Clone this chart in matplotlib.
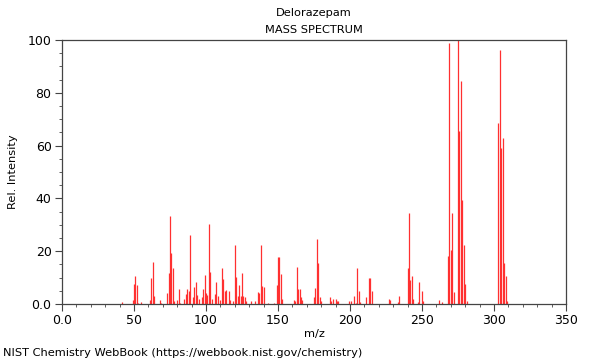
import matplotlib
matplotlib.use("Agg")
import matplotlib.pyplot as plt
from matplotlib.ticker import MultipleLocator, FuncFormatter

# ========================
# DATA
# ========================
mz = [42, 49, 50, 51, 52, 53, 55, 61, 62, 63, 64, 68, 69,
      73, 74, 75, 76, 77, 78, 80, 81, 82, 85, 86, 87, 88, 89,
      91, 92, 93, 94, 95, 97, 98, 99, 100, 101, 102, 103, 104,
      106, 107, 108, 110, 111, 112, 113, 114, 116, 117, 119,
      120, 121, 122, 123, 124, 125, 126, 127, 128, 131, 134,
      136, 137, 138, 139, 140, 143, 147, 149, 150, 151, 152, 153,
      161, 162, 163, 164, 165, 166, 167, 175, 176, 177, 178, 179, 180,
      186, 187, 188, 190, 191, 192, 199, 201, 203, 204, 205, 206, 207,
      211, 213, 214, 215, 227, 228, 233, 234,
      240, 241, 242, 243, 244, 247, 248, 250, 251, 262, 264,
      268, 269, 270, 271, 272, 275, 276, 277, 278, 279, 280, 281,
      303, 304, 305, 306, 307, 308, 309]
intensity = [0.8, 1.5, 7.5, 10.6, 7.2, 0.5, 0.8, 1.5, 9.7, 15.9, 3.0, 1.5, 0.5,
             4.3, 11.9, 33.3, 19.2, 13.8, 1.0, 1.5, 5.6, 0.5, 1.8, 3.7, 5.8, 5.1, 26.1,
             2.5, 6.6, 8.2, 3.4, 1.8, 2.5, 5.7, 11.0, 4.0, 3.4, 30.2, 12.3, 2.0,
             3.7, 8.3, 3.0, 1.5, 13.5, 9.3, 4.9, 5.3, 4.8, 1.5, 1.0,
             22.3, 10.4, 3.0, 7.2, 3.0, 11.6, 3.0, 2.5, 1.0, 1.0, 1.0,
             4.7, 4.3, 22.3, 6.8, 6.3, 0.5, 0.5, 7.1, 17.9, 17.9, 11.4, 1.8,
             1.5, 1.0, 14.1, 5.6, 5.8, 2.5, 1.5, 2.8, 5.9, 24.6, 15.4, 2.5, 1.0,
             2.5, 1.0, 2.0, 2.0, 1.2, 1.2, 1.2, 1.0, 3.0, 0.5, 13.5, 5.0, 0.8,
             2.5, 10.0, 10.0, 4.9, 2.0, 1.5, 0.8, 3.0,
             13.6, 34.3, 9.1, 10.6, 2.0, 0.6, 8.2, 4.8, 1.0, 1.5, 0.6,
             18.2, 98.7, 20.4, 34.6, 4.4, 100.0, 65.5, 84.5, 39.4, 22.3, 7.6, 1.0,
             68.4, 96.2, 59.0, 62.8, 15.4, 10.6, 1.0]

compound = "Delorazepam"
source = "NIST Chemistry WebBook (https://webbook.nist.gov/chemistry)"

# ========================
# PLOT
# ========================
plt.rcParams["font.family"] = ["DejaVu Sans"]
plt.rcParams["font.size"] = 8

fig = plt.figure(figsize=(6, 3.6), dpi=100)
ax = fig.add_axes([62 / 600, 1 - 304 / 360, 504 / 600, 264 / 360])

ax.vlines(mz, 0, intensity, colors="#ff3030", linewidth=0.9)

ax.set_xlim(0, 350)
ax.set_ylim(0, 100)

ax.xaxis.set_major_locator(MultipleLocator(50))
ax.xaxis.set_minor_locator(MultipleLocator(10))
ax.yaxis.set_major_locator(MultipleLocator(20))
ax.yaxis.set_minor_locator(MultipleLocator(5))
fmt = FuncFormatter(lambda v, p: "0.0" if v == 0 else f"{v:.0f}")
ax.xaxis.set_major_formatter(fmt)
ax.yaxis.set_major_formatter(fmt)

ax.tick_params(which="major", length=5, width=0.8, color="#444444",
               labelsize=9, pad=2.5)
ax.tick_params(which="minor", length=2.5, width=0.6, color="#444444")
for s in ax.spines.values():
    s.set_color("#444444")
    s.set_linewidth(0.9)

ax.set_xlabel("m/z", fontsize=8.2, labelpad=1.5)
ax.set_ylabel("Rel. Intensity", fontsize=8.2, labelpad=7)

fig.text(314 / 600, 1 - 13 / 360, compound, ha="center", va="center", fontsize=8.2)
fig.text(314 / 600, 1 - 30 / 360, "MASS SPECTRUM", ha="center", va="center", fontsize=8.2)
fig.text(3 / 600, 1 - 353 / 360, source, ha="left", va="center", fontsize=8.2)

fig.savefig("out.png", dpi=100)
